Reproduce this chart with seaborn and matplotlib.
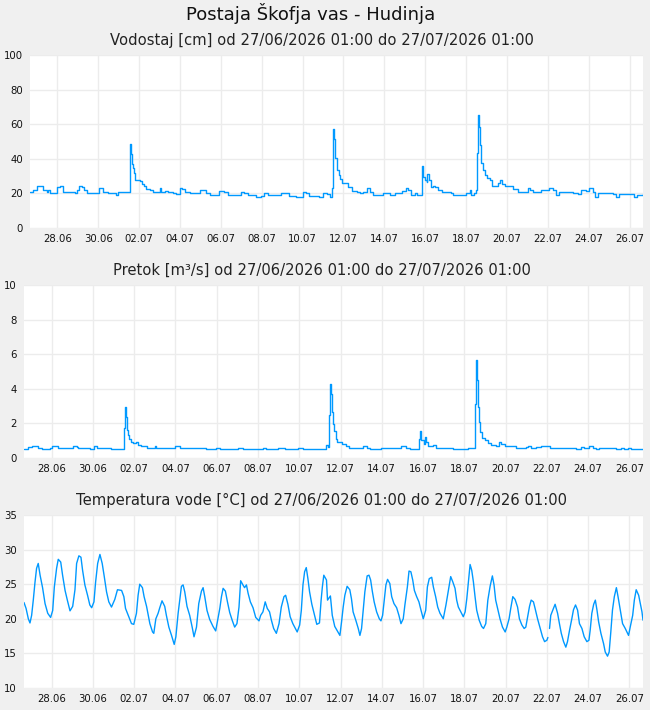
import numpy as np
import pandas as pd
import matplotlib
matplotlib.use("Agg")
import matplotlib.pyplot as plt
import matplotlib.dates as mdates
import seaborn as sns

# ---- data (time in days since 28.06.2026 00:00) ----
level_days = [-1.33, -1.17, -1.01, -0.81, -0.68, -0.52, -0.44, -0.36, -0.20, -0.03, 0.13, 0.26, 0.46, 0.70, 0.86,
              0.98, 1.07, 1.19, 1.30, 1.43, 1.67, 1.92, 2.05, 2.16, 2.24, 2.49, 2.73, 2.89, 2.98, 3.22, 3.46,
              3.54, 3.56, 3.61, 3.64, 3.71, 3.76, 3.80, 3.95, 4.03, 4.15, 4.24, 4.36, 4.52, 4.68, 4.93, 5.01,
              5.09, 5.25, 5.41, 5.66, 5.82, 5.98, 6.11, 6.23, 6.47, 6.80, 6.96, 7.12, 7.25, 7.45, 7.77, 7.93,
              8.13, 8.34, 8.59, 8.83, 8.99, 9.15, 9.32, 9.72, 9.97, 10.13, 10.29, 10.70, 10.95, 11.22, 11.35,
              11.67, 11.92, 12.03, 12.16, 12.33, 12.65, 12.81, 13.02, 13.19, 13.35, 13.43, 13.48, 13.51, 13.54,
              13.59, 13.67, 13.76, 13.84, 13.92, 14.08, 14.24, 14.41, 14.65, 14.81, 14.98, 15.14, 15.30, 15.46,
              15.71, 15.95, 16.11, 16.28, 16.52, 16.85, 17.06, 17.17, 17.33, 17.50, 17.58, 17.79, 17.82, 17.85,
              17.90, 17.98, 18.07, 18.11, 18.18, 18.28, 18.39, 18.47, 18.63, 18.80, 19.04, 19.28, 19.37, 19.85,
              20.02, 20.18, 20.26, 20.37, 20.47, 20.54, 20.59, 20.63, 20.68, 20.75, 20.83, 20.91, 21.02, 21.15,
              21.28, 21.48, 21.56, 21.64, 21.77, 21.89, 22.13, 22.29, 22.54, 22.86, 23.02, 23.14, 23.27, 23.51,
              23.67, 24.08, 24.24, 24.41, 24.57, 24.89, 25.22, 25.46, 25.63, 25.87, 26.03, 26.20, 26.33, 26.44,
              26.93, 27.17, 27.33, 27.50, 27.82, 28.07, 28.23, 28.39, 28.66]
level_cm = [20.7, 21.8, 24.3, 24.3, 21.8, 20.8, 21.8, 20.5, 20.5, 23.7, 24.3, 20.8, 20.7, 20.7, 20.3,
            21.8, 24.3, 23.7, 21.8, 20.5, 20.3, 20.3, 23.2, 23.2, 20.7, 20.5, 20.3, 18.9, 20.8, 20.8, 20.8,
            21.4, 48.3, 43.0, 36.9, 34.4, 31.9, 28.0, 28.0, 27.2, 25.3, 24.3, 22.6, 21.8, 20.7, 20.8, 23.4,
            20.8, 21.4, 20.8, 20.5, 19.9, 23.2, 22.8, 20.8, 20.3, 20.3, 21.8, 22.2, 20.5, 19.3, 19.3, 21.4,
            20.8, 18.9, 18.9, 18.9, 20.8, 20.5, 18.9, 18.0, 18.3, 20.3, 18.9, 18.9, 20.5, 20.5, 18.5,
            18.0, 18.0, 20.7, 20.3, 18.5, 18.5, 18.0, 20.3, 19.5, 18.0, 23.2, 39.2, 57.5, 51.7,
            40.2, 33.4, 30.5, 28.6, 26.3, 26.1, 23.7, 21.2, 20.8, 20.3, 20.8, 23.2, 20.8, 19.3,
            19.3, 20.3, 20.3, 19.3, 20.3, 21.4, 23.2, 22.2, 19.3, 20.3, 19.3, 19.3, 27.6, 35.9,
            29.5, 27.6, 26.6, 31.5, 27.6, 23.7, 24.3, 23.7, 21.8, 20.8, 20.7, 20.3, 19.3, 19.3,
            20.5, 21.8, 19.3, 20.3, 21.8, 43.6, 65.3, 58.5, 47.9, 37.6, 33.4, 30.5, 29.0, 27.6,
            24.3, 24.3, 26.1, 27.6, 25.7, 24.3, 24.3, 22.8, 20.8, 20.8, 23.2, 22.2, 20.8, 20.8,
            22.2, 23.2, 21.8, 19.3, 20.7, 20.8, 20.3, 19.5, 21.8, 21.4, 23.2, 20.8, 18.0, 20.3,
            20.3, 19.5, 18.0, 19.9, 19.9, 19.5, 18.0, 18.9, 19.5]

flow_days = [-1.34, -1.13, -0.97, -0.76, -0.65, -0.48, -0.08, 0.00, 0.21, 0.32, 0.89, 1.05, 1.21, 1.29, 1.85,
             2.06, 2.18, 2.90, 3.50, 3.52, 3.56, 3.60, 3.63, 3.68, 3.76, 3.84, 3.95, 4.08, 4.19, 4.35, 4.60,
             5.00, 5.08, 5.89, 6.00, 6.21, 7.02, 7.50, 7.98, 8.15, 8.79, 9.03, 9.27, 10.08, 10.24, 10.40,
             10.97, 11.29, 11.94, 12.18, 12.98, 13.15, 13.32, 13.40, 13.45, 13.50, 13.55, 13.58, 13.65, 13.69,
             13.76, 13.84, 14.05, 14.26, 14.42, 15.02, 15.10, 15.26, 15.42, 15.98, 16.95, 17.19, 17.35, 17.81,
             17.82, 17.87, 17.92, 18.03, 18.10, 18.16, 18.24, 18.48, 18.65, 19.45, 19.77, 20.18, 20.45, 20.50,
             20.56, 20.61, 20.66, 20.71, 20.77, 20.85, 20.98, 21.15, 21.31, 21.55, 21.66, 21.79, 21.95, 22.35,
             22.52, 23.00, 23.08, 23.24, 23.48, 23.73, 24.05, 24.13, 25.26, 25.42, 25.66, 25.82, 26.06, 26.23,
             26.39, 26.55, 27.19, 27.35, 27.60, 27.76, 27.92, 28.08, 28.66]
flow_m3s = [0.54, 0.64, 0.69, 0.69, 0.58, 0.54, 0.58, 0.69, 0.69, 0.58, 0.58, 0.69, 0.64, 0.58, 0.54,
            0.69, 0.58, 0.54, 0.54, 1.76, 2.95, 2.37, 1.60, 1.31, 1.12, 0.93, 0.89, 0.93, 0.73, 0.69, 0.58,
            0.68, 0.58, 0.58, 0.69, 0.58, 0.58, 0.50, 0.58, 0.50, 0.50, 0.58, 0.50, 0.50, 0.58, 0.50,
            0.58, 0.50, 0.58, 0.50, 0.54, 0.50, 0.73, 0.64, 2.47, 4.27, 3.69, 2.66, 1.99, 1.56,
            1.12, 0.93, 0.83, 0.69, 0.58, 0.58, 0.69, 0.58, 0.50, 0.58, 0.69, 0.58, 0.50, 0.50,
            1.08, 1.56, 1.02, 0.83, 1.22, 0.93, 0.69, 0.73, 0.58, 0.54, 0.50, 0.58, 0.58, 3.15,
            5.66, 4.50, 2.95, 2.08, 1.50, 1.16, 1.02, 0.89, 0.73, 0.69, 0.93, 0.83, 0.69, 0.69,
            0.58, 0.64, 0.69, 0.58, 0.64, 0.69, 0.69, 0.58, 0.58, 0.50, 0.64, 0.58, 0.69, 0.58,
            0.50, 0.58, 0.58, 0.50, 0.58, 0.50, 0.58, 0.50, 0.50]

temp_days = [-1.34, -1.24, -1.13, -1.05, -0.97, -0.89, -0.81, -0.73, -0.65, -0.56, -0.44, -0.32, -0.19, -0.05,
             0.05, 0.13, 0.24, 0.32, 0.44, 0.53, 0.65, 0.76, 0.89, 1.02, 1.13, 1.21, 1.32, 1.42, 1.50, 1.61,
             1.74, 1.85, 1.94, 2.05, 2.13, 2.23, 2.34, 2.45, 2.55, 2.66, 2.77, 2.90, 3.06, 3.19, 3.39, 3.50,
             3.58, 3.71, 3.87, 3.98, 4.11, 4.19, 4.27, 4.40, 4.48, 4.60, 4.76, 4.89, 4.95, 5.05, 5.16, 5.24,
             5.35, 5.48, 5.56, 5.68, 5.81, 5.94, 6.02, 6.13, 6.21, 6.29, 6.37, 6.45, 6.56, 6.69, 6.81, 6.90,
             7.02, 7.13, 7.26, 7.34, 7.42, 7.53, 7.66, 7.82, 7.95, 8.06, 8.15, 8.23, 8.31, 8.42, 8.52, 8.63,
             8.76, 8.87, 8.98, 9.08, 9.16, 9.27, 9.35, 9.44, 9.52, 9.63, 9.76, 9.89, 10.05, 10.13, 10.24,
             10.35, 10.45, 10.56, 10.65, 10.76, 10.89, 11.02, 11.13, 11.26, 11.34, 11.45, 11.56, 11.69, 11.90,
             12.02, 12.10, 12.18, 12.26, 12.34, 12.42, 12.50, 12.61, 12.74, 12.85, 12.98, 13.06, 13.12, 13.19,
             13.32, 13.37, 13.51, 13.60, 13.72, 13.89, 13.97, 14.05, 14.13, 14.21, 14.32, 14.45, 14.53, 14.61,
             14.74, 14.86, 14.94, 15.02, 15.10, 15.18, 15.29, 15.38, 15.46, 15.54, 15.63, 15.75, 15.88, 15.96,
             16.04, 16.12, 16.20, 16.28, 16.39, 16.48, 16.59, 16.72, 16.83, 16.93, 17.04, 17.12, 17.24, 17.32,
             17.41, 17.50, 17.58, 17.69, 17.80, 17.90, 18.01, 18.13, 18.21, 18.30, 18.42, 18.50, 18.61, 18.71,
             18.82, 18.98, 19.11, 19.23, 19.34, 19.44, 19.55, 19.63, 19.71, 19.83, 19.95, 20.04, 20.12, 20.20,
             20.28, 20.36, 20.44, 20.52, 20.60, 20.72, 20.84, 20.93, 21.04, 21.14, 21.25, 21.36, 21.44, 21.52,
             21.65, 21.73, 21.85, 21.98, 22.06, 22.17, 22.25, 22.35, 22.46, 22.58, 22.67, 22.79, 22.90, 22.98,
             23.08, 23.16, 23.24, 23.35, 23.43, 23.55, 23.68, 23.79, 23.89, 24.00, 24.05, 24.09, 24.13, 24.19,
             24.32, 24.40, 24.52, 24.61, 24.70, 24.81, 24.92, 25.00, 25.10, 25.21, 25.29, 25.39, 25.49, 25.58,
             25.70, 25.81, 25.94, 26.04, 26.10, 26.18, 26.27, 26.35, 26.43, 26.51, 26.62, 26.75, 26.83, 26.94,
             27.02, 27.10, 27.18, 27.27, 27.37, 27.45, 27.56, 27.67, 27.80, 27.96, 28.04, 28.16, 28.24, 28.33,
             28.45, 28.53, 28.61, 28.66]
temp_c = [22.35, 21.5, 20.0, 19.4, 20.5, 22.7, 25.2, 27.3, 28.0, 26.3, 24.5, 22.2, 20.8, 20.2,
          21.2, 24.6, 27.3, 28.6, 28.2, 26.3, 24.1, 22.7, 21.15, 21.8, 24.2, 28.0, 29.1, 28.9, 27.0, 24.9,
          23.4, 22.0, 21.6, 22.45, 25.3, 28.0, 29.3, 28.0, 26.1, 23.9, 22.45, 21.7, 22.8, 24.2, 24.1, 23.2,
          21.5, 20.5, 19.3, 19.2, 20.8, 23.4, 25.0, 24.5, 23.2, 21.8, 19.3, 18.1, 17.9, 20.0, 20.8, 21.6,
          22.6, 21.8, 20.5, 18.8, 17.6, 16.3, 17.4, 20.8, 22.7, 24.7, 24.9, 23.9, 21.8, 20.5, 18.8, 17.4,
          18.8, 22.2, 24.0, 24.5, 23.2, 21.2, 19.9, 18.9, 18.25, 20.0, 21.5, 23.2, 24.4, 24.0, 22.45, 20.9,
          19.7, 18.8, 19.3, 21.7, 25.5, 24.9, 24.5, 24.9, 23.7, 22.45, 21.6, 20.2, 19.7, 20.5, 21.0,
          22.45, 21.5, 21.0, 19.8, 18.6, 17.9, 19.3, 21.7, 23.2, 23.4, 22.1, 20.3, 19.3, 18.1,
          19.1, 21.2, 24.9, 26.8, 27.4, 25.8, 23.9, 22.1, 20.5, 19.2, 19.4, 22.7, 24.6, 26.3,
          25.6, 22.7, 23.3, 20.5, 18.9, 18.0, 17.6, 19.55, 21.7, 23.4, 24.7, 24.2, 22.9, 21.0,
          19.8, 18.6, 17.6, 18.6, 21.25, 23.9, 26.2, 26.3, 25.6, 24.0, 22.45, 21.0, 20.0, 19.7,
          20.5, 22.7, 24.9, 25.7, 25.1, 23.2, 22.2, 21.6, 20.5, 19.3, 20.0, 22.0, 24.6, 26.9,
          26.8, 25.6, 24.1, 23.2, 22.45, 21.25, 20.0, 21.25, 24.6, 25.8, 26.0, 24.6, 23.2, 21.7,
          20.8, 20.0, 22.0, 24.1, 26.1, 25.35, 24.4, 22.7, 21.7, 21.0, 20.3, 21.0, 22.9, 25.35,
          27.85, 27.0, 25.35, 23.2, 21.25, 19.8, 18.9, 18.6, 19.3, 22.7, 24.7, 26.2, 24.9, 22.7,
          21.0, 20.0, 18.8, 18.1, 18.8, 20.0, 21.5, 23.2, 22.8, 21.7, 20.0, 19.1, 18.6, 18.8,
          20.5, 21.8, 22.7, 22.45, 21.5, 20.0, 18.6, 17.4, 16.7, 16.9, 17.3, np.nan, 18.6, 20.5,
          21.5, 22.1, 20.8, 19.3, 17.9, 16.7, 15.9, 16.7, 18.35, 20.0, 21.3, 22.0, 21.25, 19.3,
          18.6, 17.4, 16.7, 16.9, 18.35, 20.8, 22.1, 22.7, 21.25, 19.55, 17.9, 16.4, 15.2, 14.6,
          15.2, 18.1, 21.25, 23.2, 24.5, 23.2, 21.25, 19.3, 18.6, 17.6, 18.8, 20.5, 22.7, 24.2,
          23.4, 22.2, 21.0, 19.8]

x_tick_days = list(range(0, 29, 2))

main_title = "Postaja Škofja vas - Hudinja"
panel_titles = ["Vodostaj [cm] od 27/06/2026 01:00 do 27/07/2026 01:00",
                "Pretok [m³/s] od 27/06/2026 01:00 do 27/07/2026 01:00",
                "Temperatura vode [°C] od 27/06/2026 01:00 do 27/07/2026 01:00"]
y_limits = [(0, 100), (0, 10), (10, 35)]
y_steps = [20, 2, 5]

# ---- build ----
base = pd.Timestamp("2026-06-28 00:00")
def to_time(days):
    return base + pd.to_timedelta(np.asarray(days, dtype=float), unit="D")

df_level = pd.DataFrame({"t": to_time(level_days), "v": level_cm})
df_flow = pd.DataFrame({"t": to_time(flow_days), "v": flow_m3s})
df_temp = pd.DataFrame({"t": to_time(temp_days), "v": temp_c})
df_temp["seg"] = df_temp["v"].isna().cumsum()

sns.set_theme(style="white")
plt.rcParams["font.family"] = ["DejaVu Sans"]

BG = "#f0f0f0"
LINE = "#0099ff"
GRID = "#ececec"

fig = plt.figure(figsize=(6.5, 7.1), dpi=100, facecolor=BG)
W, H = 650, 710
boxes = [(30, 55, 643, 228), (24, 285, 643, 458), (24, 515, 643, 688)]
title_y = [40, 270, 500]
axes = []
for (x0, y0, x1, y1) in boxes:
    ax = fig.add_axes([x0 / W, 1 - y1 / H, (x1 - x0) / W, (y1 - y0) / H])
    ax.set_facecolor("white")
    axes.append(ax)

xmin = to_time([-1.34])[0]
xmax = to_time([28.66])[0]

sns.lineplot(data=df_level, x="t", y="v", ax=axes[0], color=LINE, linewidth=1.0,
             drawstyle="steps-post", estimator=None, sort=False)
sns.lineplot(data=df_flow, x="t", y="v", ax=axes[1], color=LINE, linewidth=1.0,
             drawstyle="steps-post", estimator=None, sort=False)
for seg, sub in df_temp.dropna().groupby("seg"):
    sns.lineplot(data=sub, x="t", y="v", ax=axes[2], color=LINE, linewidth=1.0,
                 estimator=None, sort=False)

xticks = to_time(x_tick_days)
for i, ax in enumerate(axes):
    lo, hi = y_limits[i]
    ax.set_xlim(xmin, xmax)
    ax.set_ylim(lo, hi)
    ax.set_yticks(np.arange(lo, hi + 0.001, y_steps[i]))
    ax.set_xticks(xticks)
    ax.xaxis.set_major_formatter(mdates.DateFormatter("%d.%m"))
    ax.grid(True, color=GRID, linewidth=1.0)
    ax.set_axisbelow(True)
    for s in ax.spines.values():
        s.set_visible(False)
    ax.tick_params(axis="both", length=0, labelsize=7.3, colors="#111111")
    ax.tick_params(axis="y", pad=5)
    ax.tick_params(axis="x", pad=4)
    ax.set_xlabel("")
    ax.set_ylabel("")
    fig.text(322 / W, 1 - title_y[i] / H, panel_titles[i], ha="center", va="center",
             fontsize=10.6, color="#222222")

fig.text(311 / W, 1 - 14 / H, main_title, ha="center", va="center", fontsize=13, color="#111111")

fig.savefig("out.png", dpi=100, facecolor=BG)
